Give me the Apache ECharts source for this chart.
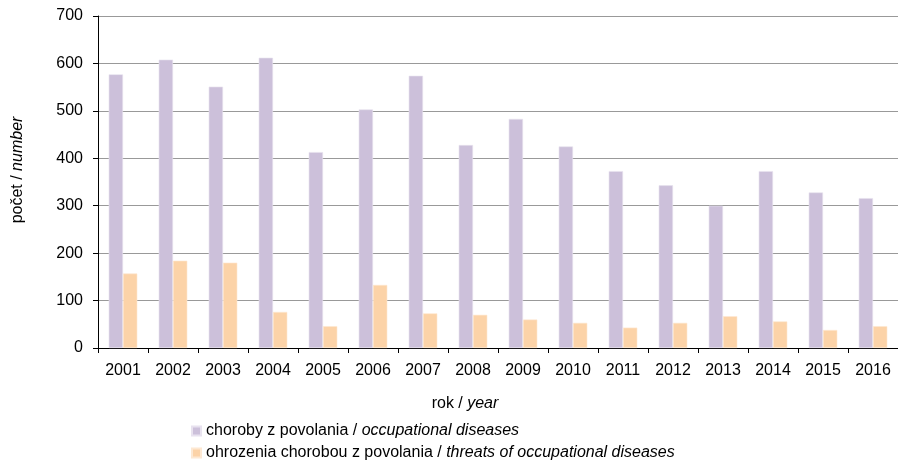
<!DOCTYPE html>
<html>
<head>
<meta charset="utf-8">
<script src="https://cdn.jsdelivr.net/npm/echarts@6/dist/echarts.min.js"></script>
<style>html,body{margin:0;padding:0;background:#fff}#c{width:898px;height:460px}</style>
</head>
<body>
<div id="c"></div>
<script>
var years = ['2001','2002','2003','2004','2005','2006','2007','2008','2009','2010','2011','2012','2013','2014','2015','2016'];
var occupational = [577, 608, 551, 612, 413, 503, 574, 428, 483, 425, 373, 343, 300, 373, 328, 316];
var threats = [157, 184, 180, 76, 46, 133, 73, 70, 60, 53, 43, 53, 67, 56, 38, 46];
var seriesNames = ['choroby z povolania / occupational diseases', 'ohrozenia chorobou z povolania / threats of occupational diseases'];
var yTicks = [0, 100, 200, 300, 400, 500, 600, 700];

var FONT = '"Liberation Sans", Arial, sans-serif';
var LFS = 16;
function legendFor(name, top) {
  return {
    orient: 'vertical', left: 186, top: top,
    itemWidth: 9, itemHeight: 9,
    icon: 'rect',
    data: [name],
    formatter: function (n) { var p = n.split(' / '); return '{n|' + p[0] + ' / }{i|' + p[1] + '}'; },
    textStyle: {
      fontFamily: FONT, fontSize: LFS, color: '#000',
      rich: { n: { fontFamily: FONT, fontSize: LFS, color: '#000' }, i: { fontFamily: FONT, fontSize: LFS, fontStyle: 'italic', color: '#000' } }
    }
  };
}
var chart = echarts.init(document.getElementById('c'));
chart.setOption({
  animation: false,
  textStyle: { fontFamily: FONT, color: '#000' },
  grid: { left: 98, right: 0, top: 16, bottom: 112 },
  legend: [legendFor(seriesNames[0], 418), legendFor(seriesNames[1], 440)],
  xAxis: {
    type: 'category', data: years,
    name: '{n|rok / }{i|year}', nameLocation: 'middle', nameGap: 48,
    nameTextStyle: { padding: [0, 66, 0, 0], rich: { n: { fontFamily: FONT, fontSize: 16, color: '#000' }, i: { fontFamily: FONT, fontSize: 16, fontStyle: 'italic', color: '#000' } } },
    axisLine: { lineStyle: { color: '#000', width: 1 } },
    axisTick: { show: true, alignWithLabel: false, length: 5, lineStyle: { color: '#000' } },
    axisLabel: { fontFamily: FONT, fontSize: 16, color: '#000', margin: 15, interval: 0 }
  },
  yAxis: {
    type: 'value', min: yTicks[0], max: yTicks[yTicks.length - 1], interval: 100,
    name: '{n|počet / }{i|number}', nameLocation: 'middle', nameGap: 72,
    nameTextStyle: { padding: [0, 0, 0, 24], rich: { n: { fontFamily: FONT, fontSize: 16, color: '#000' }, i: { fontFamily: FONT, fontSize: 16, fontStyle: 'italic', color: '#000' } } },
    axisLine: { show: true, lineStyle: { color: '#000', width: 1 } },
    axisTick: { show: true, length: 5, lineStyle: { color: '#000' } },
    axisLabel: { fontFamily: FONT, fontSize: 16, color: '#000', margin: 15 },
    splitLine: { show: true, lineStyle: { color: '#999', width: 1 } }
  },
  series: [
    { name: seriesNames[0], type: 'bar', data: occupational, barWidth: 14.3, barGap: '0%',
      itemStyle: { color: '#CCC0DA', borderColor: '#e8e2ef', borderWidth: 0.6 } },
    { name: seriesNames[1], type: 'bar', data: threats, barWidth: 14.3, barGap: '0%',
      itemStyle: { color: '#FCD3A8', borderColor: '#fde8d2', borderWidth: 0.6 } }
  ]
});
</script>
</body>
</html>
